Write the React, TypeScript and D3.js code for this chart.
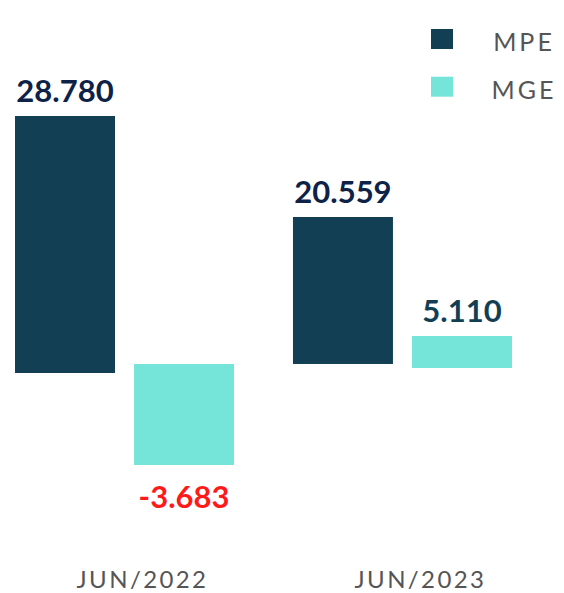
import React from "react";
import * as d3 from "d3";

const categories = ["JUN/2022", "JUN/2023"];
const seriesNames = ["MPE", "MGE"];
// Displayed values (labels)
const mpeValues = [28.78, 20.559];
const mgeValues = [-3.683, 5.11];
// Floating bar extents as drawn (in value units)
const mpeRanges: [number, number][] = [[0, 28.78], [1.01, 17.47]];
const mgeRanges: [number, number][] = [[1.01, -10.3], [0.56, 4.14]];

const seriesColors = ["#133f55", "#74e5d8"];
const labelColors = ["#0e2248", "#133f55"];
const negColor = "#ff1a1a";

const W = 564;
const H = 593;

export default function App() {
  const x0 = d3.scaleBand<string>().domain(categories).range([15, 512]).paddingInner(0.212).paddingOuter(0);
  const x1 = d3.scaleBand<string>().domain(seriesNames).range([0, x0.bandwidth()]).paddingInner(0.16).paddingOuter(0);
  const y = d3.scaleLinear().domain([0, 28.78]).range([373, 116]);

  const fmt = (v: number) => d3.format(".3f")(v).replace("\u2212", "-");

  const values = [mpeValues, mgeValues];
  const ranges = [mpeRanges, mgeRanges];

  return (
    <svg width={W} height={H} style={{ position: "absolute", left: 0, top: 0, background: "#fff" }}
      fontFamily="Lato, 'Open Sans', sans-serif">
      {categories.map((cat, ci) => (
        <g key={cat} transform={`translate(${x0(cat)},0)`}>
          {seriesNames.map((s, si) => {
            const [a, b] = ranges[si][ci];
            const top = y(Math.max(a, b));
            const bot = y(Math.min(a, b));
            const v = values[si][ci];
            const bx = x1(s)!;
            const cx = bx + x1.bandwidth() / 2;
            const neg = v < 0;
            return (
              <g key={s}>
                <rect x={bx} y={top} width={x1.bandwidth()} height={bot - top} fill={seriesColors[si]} />
                <text x={cx} y={neg ? bot + 43 : top - 14} textAnchor="middle" fontWeight={700}
                  fontSize={31} fill={neg ? negColor : labelColors[si]}>
                  {fmt(v)}
                </text>
              </g>
            );
          })}
          <text x={x0.bandwidth() / 2 + 18} y={588} textAnchor="middle" fontSize={24}
            letterSpacing={2.4} fill="#555">
            {cat}
          </text>
        </g>
      ))}
      <g>
        {seriesNames.map((s, si) => (
          <g key={s} transform={`translate(0,${si * 47.7})`}>
            <rect x={431} y={29} width={22} height={20} fill={seriesColors[si]} />
            <text x={524} y={51.3} textAnchor="middle" fontSize={25} letterSpacing={3} fill="#555">
              {s}
            </text>
          </g>
        ))}
      </g>
    </svg>
  );
}
